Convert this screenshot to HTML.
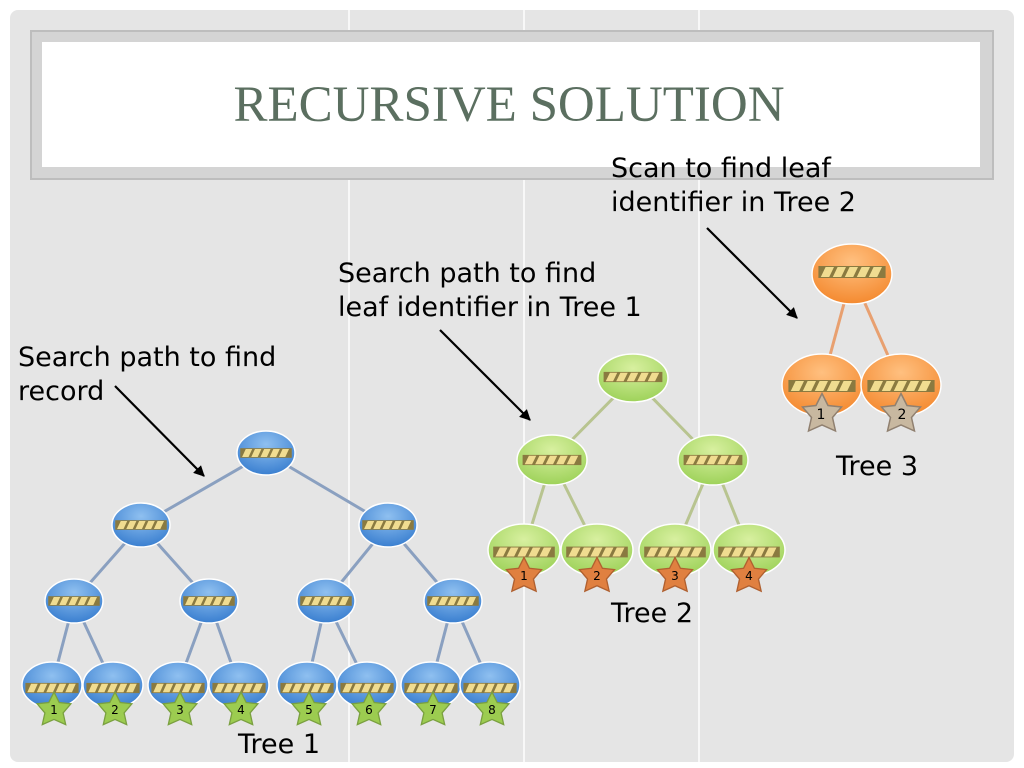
<!DOCTYPE html>
<html><head><meta charset="utf-8"><style>
html,body{margin:0;padding:0;width:1024px;height:768px;overflow:hidden;background:#fff}
</style></head><body>
<svg width="1024" height="768" viewBox="0 0 1024 768" xmlns="http://www.w3.org/2000/svg" font-family="DejaVu Sans, sans-serif">
<defs>
<radialGradient id="gb" cx="0.5" cy="0.3" r="0.7"><stop offset="0" stop-color="#8fc0f0"/><stop offset="1" stop-color="#3a7fd0"/></radialGradient>
<radialGradient id="gg" cx="0.5" cy="0.3" r="0.7"><stop offset="0" stop-color="#d8f0a0"/><stop offset="1" stop-color="#9ed25a"/></radialGradient>
<radialGradient id="go" cx="0.5" cy="0.3" r="0.7"><stop offset="0" stop-color="#ffc080"/><stop offset="1" stop-color="#f48a30"/></radialGradient>
<g id="bar">
<rect x="-28" y="-6" width="56" height="12" fill="#8a7a40"/>
<polygon points="-26,5 -22,-5 -15,-5 -19,5" fill="#f0dc90"/>
<polygon points="-16,5 -12,-5 -5,-5 -9,5" fill="#f0dc90"/>
<polygon points="-6,5 -2,-5 5,-5 1,5" fill="#f0dc90"/>
<polygon points="4,5 8,-5 15,-5 11,5" fill="#f0dc90"/>
<polygon points="14,5 18,-5 25,-5 21,5" fill="#f0dc90"/>
</g>
<polygon id="star" points="0,-13 4,-5 13,-4 7,3 9,12 0,8 -9,12 -7,3 -13,-4 -4,-5"/>
<marker id="ah" viewBox="0 0 10 10" refX="9" refY="5" markerWidth="5" markerHeight="5" orient="auto"><path d="M0,0L10,5L0,10z" fill="#000"/></marker>
</defs>
<rect width="1024" height="768" fill="#fff"/>
<rect x="10" y="10" width="1004" height="752" rx="8" fill="#e5e5e5"/>
<g stroke="#fff" stroke-width="1.5"><line x1="349" y1="10" x2="349" y2="762"/><line x1="524" y1="10" x2="524" y2="762"/><line x1="699" y1="10" x2="699" y2="762"/></g>
<rect x="31" y="31" width="962" height="148" fill="#d4d4d4" stroke="#bdbdbd" stroke-width="2"/>
<rect x="42" y="42" width="938" height="125" fill="#fff"/>
<text x="509" y="121" text-anchor="middle" font-family="Liberation Serif, serif" font-size="51" fill="#5b6f60">RECURSIVE SOLUTION</text>

<g font-size="27" fill="#000">
<text x="18" y="366">Search path to find</text><text x="18" y="400">record</text>
<text x="338" y="282">Search path to find</text><text x="338" y="316">leaf identifier in Tree 1</text>
<text x="611" y="177">Scan to find leaf</text><text x="611" y="211">identifier in Tree 2</text>
<text x="238" y="753">Tree 1</text><text x="611" y="622">Tree 2</text><text x="836" y="475">Tree 3</text>
</g>
<g stroke="#000" stroke-width="2.2" marker-end="url(#ah)">
<line x1="115" y1="386" x2="204" y2="476"/>
<line x1="440" y1="330" x2="530" y2="420"/>
<line x1="707" y1="228" x2="797" y2="318"/>
</g>

<g stroke="#8aa0c0" stroke-width="3">
<path d="M266,453L141,525M266,453L388,525M141,525L74,601M141,525L209,601M388,525L326,601M388,525L453,601M74,601L52,685M74,601L113,685M209,601L178,685M209,601L239,685M326,601L307,685M326,601L367,685M453,601L431,685M453,601L490,685"/>
</g>
<g stroke="#b8c490" stroke-width="3">
<path d="M633,378L552,460M633,378L713,460M552,460L524,550M552,460L597,550M713,460L675,550M713,460L749,550"/>
</g>
<g stroke="#e8a070" stroke-width="3"><path d="M852,274L822,385M852,274L901,385"/></g>

<g stroke="#fff" stroke-width="1.5" fill="url(#gb)">
<ellipse cx="266" cy="453" rx="29" ry="22"/><ellipse cx="141" cy="525" rx="29" ry="22"/><ellipse cx="388" cy="525" rx="29" ry="22"/>
<ellipse cx="74" cy="601" rx="29" ry="22"/><ellipse cx="209" cy="601" rx="29" ry="22"/><ellipse cx="326" cy="601" rx="29" ry="22"/><ellipse cx="453" cy="601" rx="29" ry="22"/>
<ellipse cx="52" cy="685" rx="30" ry="23"/><ellipse cx="113" cy="685" rx="30" ry="23"/><ellipse cx="178" cy="685" rx="30" ry="23"/><ellipse cx="239" cy="685" rx="30" ry="23"/>
<ellipse cx="307" cy="685" rx="30" ry="23"/><ellipse cx="367" cy="685" rx="30" ry="23"/><ellipse cx="431" cy="685" rx="30" ry="23"/><ellipse cx="490" cy="685" rx="30" ry="23"/>
</g>
<g stroke="#fff" stroke-width="1.5" fill="url(#gg)">
<ellipse cx="633" cy="378" rx="35" ry="24"/><ellipse cx="552" cy="460" rx="35" ry="25"/><ellipse cx="713" cy="460" rx="35" ry="25"/>
<ellipse cx="524" cy="550" rx="36" ry="26"/><ellipse cx="597" cy="550" rx="36" ry="26"/><ellipse cx="675" cy="550" rx="36" ry="26"/><ellipse cx="749" cy="550" rx="36" ry="26"/>
</g>
<g stroke="#fff" stroke-width="1.5" fill="url(#go)">
<ellipse cx="852" cy="274" rx="40" ry="30"/><ellipse cx="822" cy="385" rx="40" ry="31"/><ellipse cx="901" cy="385" rx="40" ry="31"/>
</g>

<g>
<use href="#bar" transform="translate(266,453) scale(0.92,0.8)"/><use href="#bar" transform="translate(141,525) scale(0.92,0.8)"/><use href="#bar" transform="translate(388,525) scale(0.92,0.8)"/>
<use href="#bar" transform="translate(74,601) scale(0.92,0.8)"/><use href="#bar" transform="translate(209,601) scale(0.92,0.8)"/><use href="#bar" transform="translate(326,601) scale(0.92,0.8)"/><use href="#bar" transform="translate(453,601) scale(0.92,0.8)"/>
<use href="#bar" transform="translate(52,688) scale(0.95,0.85)"/><use href="#bar" transform="translate(113,688) scale(0.95,0.85)"/><use href="#bar" transform="translate(178,688) scale(0.95,0.85)"/><use href="#bar" transform="translate(239,688) scale(0.95,0.85)"/>
<use href="#bar" transform="translate(307,688) scale(0.95,0.85)"/><use href="#bar" transform="translate(367,688) scale(0.95,0.85)"/><use href="#bar" transform="translate(431,688) scale(0.95,0.85)"/><use href="#bar" transform="translate(490,688) scale(0.95,0.85)"/>
<use href="#bar" transform="translate(633,377) scale(1.05,0.85)"/><use href="#bar" transform="translate(552,460) scale(1.05,0.85)"/><use href="#bar" transform="translate(713,460) scale(1.05,0.85)"/>
<use href="#bar" transform="translate(524,552) scale(1.1,0.9)"/><use href="#bar" transform="translate(597,552) scale(1.1,0.9)"/><use href="#bar" transform="translate(675,552) scale(1.1,0.9)"/><use href="#bar" transform="translate(749,552) scale(1.1,0.9)"/>
<use href="#bar" transform="translate(852,272) scale(1.2,1)"/><use href="#bar" transform="translate(822,386) scale(1.2,1)"/><use href="#bar" transform="translate(901,386) scale(1.2,1)"/>
</g>

<g fill="#9ccc50" stroke="#7aa040" stroke-width="1">
<use href="#star" transform="translate(54,709) scale(1.3)"/><use href="#star" transform="translate(115,709) scale(1.3)"/><use href="#star" transform="translate(180,709) scale(1.3)"/><use href="#star" transform="translate(241,709) scale(1.3)"/>
<use href="#star" transform="translate(309,709) scale(1.3)"/><use href="#star" transform="translate(369,709) scale(1.3)"/><use href="#star" transform="translate(433,709) scale(1.3)"/><use href="#star" transform="translate(492,709) scale(1.3)"/>
</g>
<g fill="#e08040" stroke="#b06030" stroke-width="1">
<use href="#star" transform="translate(524,575) scale(1.35)"/><use href="#star" transform="translate(597,575) scale(1.35)"/><use href="#star" transform="translate(675,575) scale(1.35)"/><use href="#star" transform="translate(749,575) scale(1.35)"/>
</g>
<g fill="#c8b8a0" stroke="#908070" stroke-width="1">
<use href="#star" transform="translate(822,413) scale(1.5)"/><use href="#star" transform="translate(901,413) scale(1.5)"/>
</g>
<g font-size="12" text-anchor="middle" fill="#000">
<text x="54" y="714">1</text><text x="115" y="714">2</text><text x="180" y="714">3</text><text x="241" y="714">4</text>
<text x="309" y="714">5</text><text x="369" y="714">6</text><text x="433" y="714">7</text><text x="492" y="714">8</text>
<text x="524" y="580">1</text><text x="597" y="580">2</text><text x="675" y="580">3</text><text x="749" y="580">4</text>
<text x="821" y="419" font-size="14">1</text><text x="902" y="419" font-size="14">2</text>
</g>
</svg>
</body></html>
